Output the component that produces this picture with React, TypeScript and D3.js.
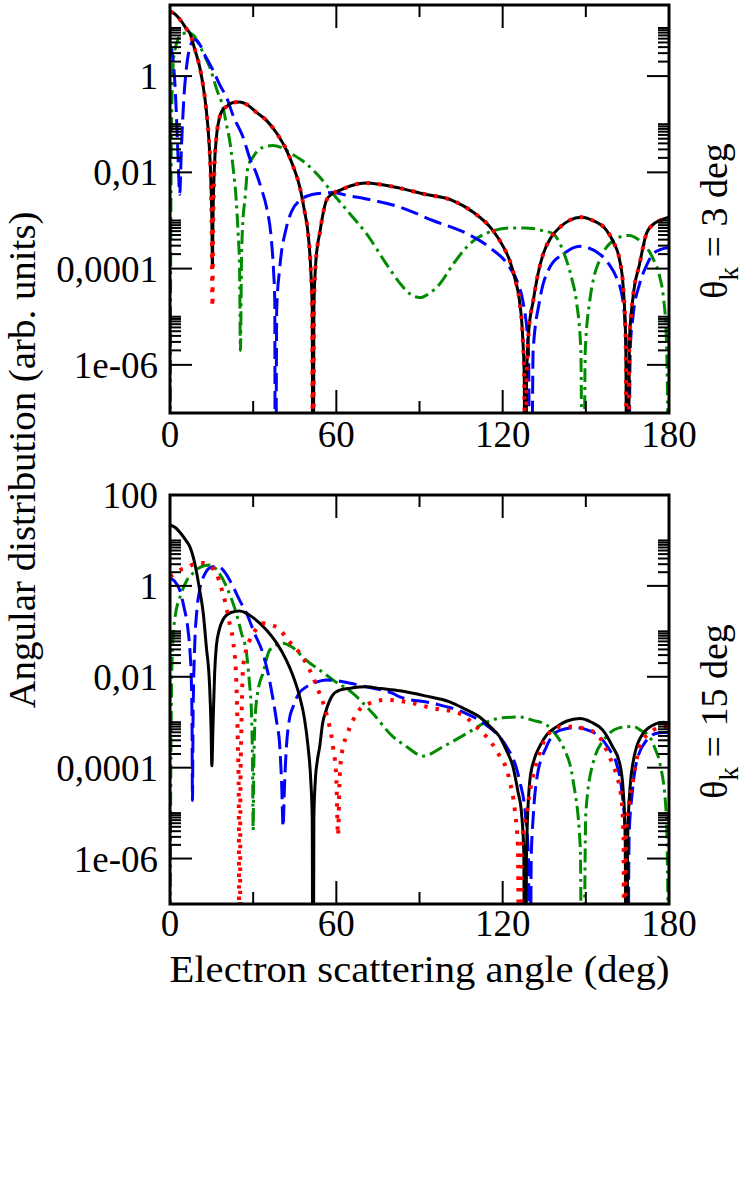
import * as d3 from 'd3';

type Pt = [number, number];

// x axis (electron scattering angle, deg)
const angleTicks = [0, 60, 120, 180];
const angleMinorTicks = [30, 90, 150];

// y axis (log)
const yMajorTicks = [1e-6, 1e-4, 1e-2, 1, 100];
const yTickLabels = ['1e-06', '0,0001', '0,01', '1', '100'];
const yMinorFactors = [2, 3, 4, 5, 6, 7, 8, 9, 10];

const panelLabels = ['3', '15'];

// ---- theta_k = 3 deg ----
const topSolid: Pt[] = [
  [0, 22], [2, 19], [4, 14], [6, 9.5], [7.1, 7.9], [9, 3.5], [10.7, 1.55], [12, 0.6], [13.1, 0.195],
  [14, 0.05], [14.7, 0.008], [15.1, 0.001], [15.3, 1.05e-4], [15.5, 0.001], [16, 0.012], [16.7, 0.05],
  [17.9, 0.14], [19, 0.2], [20.3, 0.23], [22.5, 0.28], [25.1, 0.29], [28, 0.25], [31, 0.18], [34.8, 0.12],
  [38.5, 0.065], [42, 0.029], [44.5, 0.013], [46.8, 0.005], [48.5, 0.0016], [49.8, 5.4e-4], [50.8, 9e-5],
  [51.3, 1.5e-5], [51.6, 1e-12], [51.9, 1.5e-5], [52.4, 9e-5], [53.2, 3e-4], [54, 5.4e-4], [55, 1.2e-3],
  [56.4, 2.6e-3], [58.5, 3.6e-3], [61.2, 4.2e-3], [65, 5.2e-3], [70.8, 6e-3], [76, 5.6e-3], [82.9, 4.7e-3],
  [92, 3.5e-3], [102, 2.6e-3], [109.3, 1.5e-3], [116.4, 6.3e-4], [120, 3e-4], [122.5, 1.5e-4], [124.5, 6e-5],
  [126.1, 2.1e-5], [127.2, 4e-6], [127.8, 5e-7], [128.2, 1e-12], [128.6, 5e-7], [129.4, 5e-6], [131, 2.1e-5],
  [132.8, 8e-5], [134.6, 2e-4], [137.5, 4.5e-4], [140.6, 7.2e-4], [144, 1e-3], [148.4, 1.17e-3], [152.5, 1e-3],
  [157.4, 6.3e-4], [160, 3.5e-4], [162.2, 1.5e-4], [163.5, 4e-5], [164.4, 3e-6], [165, 1e-12], [165.7, 3e-6],
  [167, 2.5e-5], [169.4, 1.26e-4], [171.9, 5.4e-4], [174, 8e-4], [176.7, 1e-3], [180, 1.17e-3],
];
const topDotted: Pt[] = [
  [0, 22], [2, 19], [4, 14], [6, 9.5], [7.1, 7.9], [9, 3.5], [10.7, 1.55], [12, 0.6], [13.1, 0.195],
  [14, 0.05], [14.7, 0.008], [15.1, 4e-4], [15.3, 1.6e-5], [15.5, 4e-4], [16, 0.012], [16.7, 0.05],
  [17.9, 0.14], [19, 0.2], [20.3, 0.23], [22.5, 0.28], [25.1, 0.29], [28, 0.25], [31, 0.18], [34.8, 0.12],
  [38.5, 0.065], [42, 0.029], [44.5, 0.013], [46.8, 0.005], [48.5, 0.0016], [49.8, 5.4e-4], [50.8, 9e-5],
  [51.3, 1.5e-5], [51.6, 1e-12], [51.9, 1.5e-5], [52.4, 9e-5], [53.2, 3e-4], [54, 5.4e-4], [55, 1.2e-3],
  [56.4, 2.6e-3], [58.5, 3.6e-3], [61.2, 4.2e-3], [65, 5.2e-3], [70.8, 6e-3], [76, 5.6e-3], [82.9, 4.7e-3],
  [92, 3.5e-3], [102, 2.6e-3], [109.3, 1.5e-3], [116.4, 6.3e-4], [120, 3e-4], [122.5, 1.5e-4], [124.5, 6e-5],
  [126.1, 2.1e-5], [127.2, 4e-6], [127.8, 5e-7], [128.2, 1e-12], [128.6, 5e-7], [129.4, 5e-6], [131, 2.1e-5],
  [132.8, 8e-5], [134.6, 2e-4], [137.5, 4.5e-4], [140.6, 7.2e-4], [144, 1e-3], [148.4, 1.17e-3], [152.5, 1e-3],
  [157.4, 6.3e-4], [160, 3.5e-4], [162.2, 1.5e-4], [163.5, 4e-5], [164.4, 3e-6], [165, 1e-12], [165.7, 3e-6],
  [167, 2.5e-5], [169.4, 1.26e-4], [171.9, 5.4e-4], [174, 8e-4], [176.7, 1e-3], [180, 1.17e-3],
];
const topDashed: Pt[] = [
  [0, 4.5], [1, 2.5], [2, 0.4], [2.8, 0.03], [3.5, 3.5e-3], [4.1, 0.03], [5, 0.35], [6, 1.6], [7.5, 4.5],
  [8.9, 5.7], [10.5, 4.8], [12.5, 2.8], [15.5, 1.33], [18, 0.65], [20.3, 0.37], [23, 0.14], [26.3, 0.055],
  [29, 0.018], [31.2, 9.3e-3], [33, 4.5e-3], [34.8, 1.9e-3], [36.6, 3.8e-4], [37.4, 8e-5], [37.8, 2.1e-5],
  [38, 1e-12], [38.5, 1.5e-5], [39.6, 1.05e-4], [42, 7.2e-4], [44, 1.6e-3], [46.8, 2.6e-3], [50, 3.3e-3],
  [52.8, 3.6e-3], [58.8, 3.8e-3], [64, 3.3e-3], [70.8, 2.8e-3], [82.9, 1.9e-3], [94.8, 1e-3], [106.9, 5.4e-4],
  [115.3, 2.75e-4], [122.5, 1.07e-4], [125.5, 5e-5], [127.3, 2.1e-5], [129.3, 2e-6], [130.1, 1e-12], [131, 2e-6],
  [133.3, 2.1e-5], [137, 1.07e-4], [141.8, 2e-4], [147.8, 2.9e-4], [155, 2e-4], [158.5, 1.2e-4], [161, 6.6e-5],
  [163.4, 2.1e-5], [164.6, 2e-6], [165.2, 1e-12], [166, 2e-6], [167, 1e-5], [169.4, 4.8e-5], [172, 1.2e-4],
  [174.2, 2e-4], [177, 2.5e-4], [180, 2.75e-4],
];
const topDashDot: Pt[] = [
  [0, 1e-9], [0.3, 1e-3], [0.7, 0.3], [1.2, 2], [2, 4], [3, 6], [4.5, 7.5], [6.5, 7.9], [8.5, 7], [10.5, 4.5],
  [12.5, 2.6], [14.3, 1.55], [17, 0.5], [19.1, 0.23], [20.5, 0.09], [21.5, 0.047], [22.8, 0.012], [23.9, 2.6e-3],
  [24.6, 5e-4], [25.1, 1.05e-4], [25.4, 2e-6], [25.8, 1.5e-4], [26.4, 1.2e-3], [27, 2.6e-3], [28.1, 0.013],
  [30, 0.021], [33.5, 0.033], [37, 0.036], [40, 0.033], [44, 0.024], [49.2, 0.015], [54, 8e-3], [58.8, 3.6e-3],
  [64.8, 1.4e-3], [70.8, 5.4e-4], [78, 1.26e-4], [82.9, 5e-5], [86.5, 3e-5], [90.1, 2.5e-5], [94, 3.2e-5],
  [97.3, 4.8e-5], [102, 1.2e-4], [106.9, 2.75e-4], [110.5, 4.2e-4], [114.1, 5.4e-4], [122.5, 7e-4], [128, 7e-4],
  [131, 6.8e-4], [135, 6e-4], [138, 5.4e-4], [141, 3e-4], [143, 1.5e-4], [145, 6e-5], [146.6, 2.1e-5],
  [148.2, 2e-6], [149, 1e-12], [149.8, 2e-6], [151.4, 2.1e-5], [153, 7e-5], [155, 1.5e-4], [157.5, 2.8e-4],
  [159.8, 3.8e-4], [162.5, 4.6e-4], [165.8, 4.9e-4], [169, 4e-4], [171.9, 2.75e-4], [174.5, 1.5e-4],
  [176.7, 6.6e-5], [178, 2.5e-5], [179, 4.4e-6], [180, 1e-9],
];

// ---- theta_k = 15 deg ----
const botSolid: Pt[] = [
  [0, 22], [2, 19], [4, 14], [6, 9.5], [7.1, 7.4], [9, 3], [10.7, 0.81], [12, 0.25], [13.1, 0.046],
  [14.3, 0.006], [14.8, 8e-4], [15.1, 1.1e-4], [15.5, 8e-4], [16.1, 0.012], [16.7, 0.046], [17.8, 0.11],
  [19.1, 0.18], [22, 0.26], [25.1, 0.28], [30, 0.2], [34.8, 0.107], [38.5, 0.055], [42, 0.023], [44.5, 0.01],
  [46.8, 3.6e-3], [48.5, 1.2e-3], [49.8, 2.9e-4], [50.8, 5e-5], [51.3, 8e-6], [51.6, 1e-12], [51.9, 8e-6],
  [52.4, 5e-5], [53.2, 1.5e-4], [54, 2.9e-4], [55, 9e-4], [56.4, 1.9e-3], [58.5, 3.8e-3], [61.2, 5.1e-3],
  [65, 5.6e-3], [70.8, 6e-3], [76, 5.5e-3], [82.9, 4.9e-3], [92, 3.8e-3], [100.9, 2.8e-3], [106, 2e-3],
  [111.7, 1.3e-3], [115.5, 8e-4], [118.9, 4.8e-4], [121.5, 2.3e-4], [123.7, 1.05e-4], [125.5, 3e-5],
  [126.8, 1e-5], [127.6, 1.5e-6], [128.1, 1e-12], [128.6, 1.5e-6], [129.8, 5.2e-5], [131.5, 1.6e-4],
  [133.3, 2.9e-4], [136, 5.4e-4], [139.4, 7.9e-4], [143, 1.05e-3], [147.8, 1.2e-3], [152, 1e-3],
  [156.2, 6.6e-4], [159.5, 3e-4], [162.2, 1.26e-4], [163.5, 3e-5], [164.2, 3e-6], [164.6, 1e-12],
  [165.1, 3e-6], [166, 4e-5], [167, 1.26e-4], [170.6, 5.6e-4], [175.4, 9.3e-4], [178, 1e-3], [180, 9.3e-4],
];
const botDotted: Pt[] = [
  [0, 1.6], [2, 1.9], [4, 2.3], [5.9, 2.5], [8, 2.9], [10.7, 3.2], [11.9, 3.2], [14, 2.8], [16.7, 1.9],
  [18.5, 0.9], [20.3, 0.35], [21.5, 0.15], [22.7, 0.065], [23.9, 8.5e-3], [24.5, 2.9e-4], [24.8, 3e-5],
  [25.1, 1e-12], [25.4, 3e-5], [25.7, 5e-4], [26.3, 0.014], [27.5, 0.04], [28.8, 0.065], [31, 0.11],
  [33.5, 0.15], [36, 0.14], [39, 0.117], [43, 0.06], [46.8, 0.033], [50.4, 0.014], [53.5, 5e-3],
  [56.4, 1.55e-3], [58.8, 2.9e-4], [60, 6e-5], [60.6, 3.2e-6], [61.2, 6e-5], [62.2, 2.5e-4], [63.6, 4.8e-4],
  [66, 1.1e-3], [69.6, 2.2e-3], [78, 3.1e-3], [87.7, 2.6e-3], [93.7, 2.1e-3], [104.5, 1.55e-3],
  [110.5, 7.9e-4], [117.7, 2.4e-4], [122.5, 5.2e-5], [124.5, 1e-5], [125.5, 1.8e-6], [126.2, 1e-12],
  [126.9, 2e-6], [128.6, 1e-5], [130.5, 5e-5], [132.2, 1.26e-4], [135.8, 4.8e-4], [140.6, 7.9e-4],
  [145.4, 8e-4], [150, 7e-4], [153.8, 5.6e-4], [158.6, 1.7e-4], [161, 7e-5], [162.8, 2.2e-5], [163.6, 3e-6],
  [164, 1e-12], [164.5, 3e-6], [165.5, 1.5e-5], [167, 5.2e-5], [169.4, 2.9e-4], [174.2, 6.6e-4],
  [178, 8e-4], [180, 7.9e-4],
];
const botDashed: Pt[] = [
  [0, 1.48], [1.5, 1.3], [3.5, 0.81], [5, 0.35], [6.5, 0.107], [7.3, 0.03], [7.7, 8.5e-3], [7.95, 1e-3],
  [8.1, 1.9e-5], [8.3, 1e-3], [8.9, 0.046], [9.6, 0.25], [10.7, 0.81], [12.5, 1.8], [15, 2.6], [17.3, 2.7],
  [19.5, 2.1], [22.7, 0.98], [25, 0.5], [27.6, 0.25], [30.5, 0.09], [33.5, 0.033], [35.5, 0.011],
  [37.2, 3.1e-3], [38.5, 1e-3], [39.6, 2.9e-4], [40.3, 4e-5], [40.8, 5e-6], [41.3, 4e-5], [42, 2.9e-4],
  [43, 1.1e-3], [44.4, 2.2e-3], [46.5, 4.3e-3], [49.2, 6e-3], [52.5, 7.5e-3], [56.4, 8.5e-3], [61.2, 8e-3],
  [66, 7e-3], [70.8, 6e-3], [80.4, 4.3e-3], [82.9, 3.6e-3], [94.9, 2.6e-3], [106.9, 1.55e-3],
  [114.1, 8.7e-4], [121.4, 2.9e-4], [124.5, 1.2e-4], [126.1, 5.2e-5], [128.3, 8e-6], [129.3, 1e-6],
  [129.8, 1e-12], [130.3, 1e-6], [131, 8e-6], [132.2, 5.2e-5], [135.8, 2.9e-4], [140.6, 6.6e-4],
  [146.6, 7.6e-4], [151, 6.6e-4], [155, 4.8e-4], [158.5, 2.5e-4], [161, 1.26e-4], [163, 3e-5], [164.3, 3e-6],
  [165, 1e-12], [165.6, 3e-6], [166.8, 3e-5], [168.2, 1.26e-4], [171.9, 4e-4], [176, 5.8e-4], [180, 6e-4],
];
const botDashDot: Pt[] = [
  [0, 1e-9], [0.3, 1e-4], [0.8, 0.03], [1.7, 0.18], [4.1, 0.69], [6, 1.3], [8.3, 1.9], [11, 2.6],
  [14.3, 2.9], [17, 2.2], [20.3, 0.98], [22, 0.55], [23.9, 0.25], [25.8, 0.09], [27.6, 0.033], [28.6, 8e-3],
  [29.4, 1.55e-3], [29.8, 8e-5], [30, 4.2e-6], [30.2, 8e-5], [30.8, 1.55e-3], [32, 6e-3], [33.5, 0.0117],
  [36, 0.039], [40.8, 0.055], [44, 0.045], [49.2, 0.023], [54, 0.014], [58.8, 8.5e-3], [66, 4.3e-3],
  [73.2, 1.55e-3], [80.4, 4.8e-4], [85, 3e-4], [91.3, 1.8e-4], [98.5, 2.9e-4], [106.9, 5.6e-4],
  [114.1, 1e-3], [120, 1.25e-3], [126.1, 1.3e-3], [131, 1.1e-3], [135.8, 8.7e-4], [139, 5.5e-4],
  [141.8, 2.9e-4], [145.4, 5.2e-5], [148, 1.8e-6], [148.8, 1e-12], [150, 1e-5], [152.6, 1.26e-4],
  [157.4, 4.8e-4], [162, 7.5e-4], [167, 8.1e-4], [170, 6.5e-4], [173, 4.8e-4], [175, 2.6e-4],
  [176.7, 1.26e-4], [179, 1e-5], [180, 1e-9],
];

const W = 747;
const H = 1181;
const left = 170;
const right = 669;
const font = '"Liberation Serif", "Times New Roman", serif';

const styles = {
  dashDot: { stroke: '#008b00', width: 3, dash: '14 5 3 5' },
  dashed: { stroke: '#0000ff', width: 3, dash: '18 7' },
  solid: { stroke: '#000000', width: 3, dash: 'none' },
  dotted: { stroke: '#ff0000', width: 4, dash: '3.5 8' },
};

const panels = [
  { id: 'p1', top: 5, bottom: 413, yMax: 30, labelBase: 447, series: { dashDot: topDashDot, dashed: topDashed, solid: topSolid, dotted: topDotted } },
  { id: 'p2', top: 495, bottom: 904, yMax: 100, labelBase: 936, series: { dashDot: botDashDot, dashed: botDashed, solid: botSolid, dotted: botDotted } },
];

function Panel({ p, label }: { p: (typeof panels)[number]; label: string }) {
  const x = d3.scaleLinear().domain([0, 180]).range([left, right]);
  const y = d3.scaleLog().domain([1e-7, p.yMax]).range([p.bottom, p.top]);
  const line = d3
    .line<Pt>()
    .x((d) => x(d[0]))
    .y((d) => y(d[1]))
    .curve(d3.curveMonotoneX);

  const inDomain = (v: number) => v >= 1e-7 * 0.999 && v <= p.yMax * 1.001;
  const majors = yMajorTicks.map((v, i) => ({ v, label: yTickLabels[i] })).filter((t) => inDomain(t.v));
  const minors = yMajorTicks.flatMap((m) => yMinorFactors.map((k) => m * k)).filter(inDomain);
  const mid = (p.top + p.bottom) / 2;

  return (
    <g>
      <defs>
        <clipPath id={`clip-${p.id}`}>
          <rect x={left} y={p.top} width={right - left} height={p.bottom - p.top} />
        </clipPath>
      </defs>
      <g clipPath={`url(#clip-${p.id})`} fill="none">
        {(Object.keys(styles) as (keyof typeof styles)[]).map((k) => (
          <path
            key={k}
            d={line(p.series[k]) || ''}
            stroke={styles[k].stroke}
            strokeWidth={styles[k].width}
            strokeDasharray={styles[k].dash}
          />
        ))}
      </g>

      {/* ticks */}
      <g stroke="#000" strokeWidth={2}>
        {minors.map((v, i) => (
          <g key={`mn${i}`}>
            <line x1={left} x2={left + 11} y1={y(v)} y2={y(v)} />
            <line x1={right} x2={right - 11} y1={y(v)} y2={y(v)} />
          </g>
        ))}
        {majors.map((t, i) => (
          <g key={`mj${i}`}>
            <line x1={left} x2={left + 22} y1={y(t.v)} y2={y(t.v)} />
            <line x1={right} x2={right - 22} y1={y(t.v)} y2={y(t.v)} />
          </g>
        ))}
        {angleTicks.map((a) => (
          <g key={`xa${a}`}>
            <line x1={x(a)} x2={x(a)} y1={p.bottom} y2={p.bottom - 23} />
            <line x1={x(a)} x2={x(a)} y1={p.top} y2={p.top + 23} />
          </g>
        ))}
        {angleMinorTicks.map((a) => (
          <g key={`xm${a}`}>
            <line x1={x(a)} x2={x(a)} y1={p.bottom} y2={p.bottom - 12} />
            <line x1={x(a)} x2={x(a)} y1={p.top} y2={p.top + 12} />
          </g>
        ))}
      </g>
      <rect x={left} y={p.top} width={right - left} height={p.bottom - p.top} fill="none" stroke="#000" strokeWidth={3} />

      {/* tick labels */}
      <g fontFamily={font} fontSize={37} fill="#000">
        {majors.map((t, i) => (
          <text key={`yl${i}`} x={158} y={y(t.v) + 13} textAnchor="end">
            {t.label}
          </text>
        ))}
        {angleTicks.map((a) => (
          <text key={`xl${a}`} x={x(a)} y={p.labelBase} textAnchor="middle">
            {a}
          </text>
        ))}
      </g>

      <text transform={`translate(727,${mid + 12}) rotate(-90)`} fontFamily={font} fontSize={38} textAnchor="middle">
        θ<tspan dy={11} fontSize={27}>k</tspan>
        <tspan dy={-11}>{` = ${label} deg`}</tspan>
      </text>
    </g>
  );
}

export default function App() {
  return (
    <svg width={W} height={H} style={{ position: 'absolute', left: 0, top: 0, background: '#fff' }}>
      <rect width={W} height={H} fill="#fff" />
      {panels.map((p, i) => (
        <Panel key={p.id} p={p} label={panelLabels[i]} />
      ))}
      <text
        x={(left + right) / 2}
        y={982}
        fontFamily={font}
        fontSize={38}
        textAnchor="middle"
        textLength={500}
        lengthAdjust="spacingAndGlyphs"
      >
        Electron scattering angle (deg)
      </text>
      <text
        transform="translate(35,460) rotate(-90)"
        fontFamily={font}
        fontSize={38}
        textAnchor="middle"
        textLength={497}
        lengthAdjust="spacingAndGlyphs"
      >
        Angular distribution (arb. units)
      </text>
    </svg>
  );
}
